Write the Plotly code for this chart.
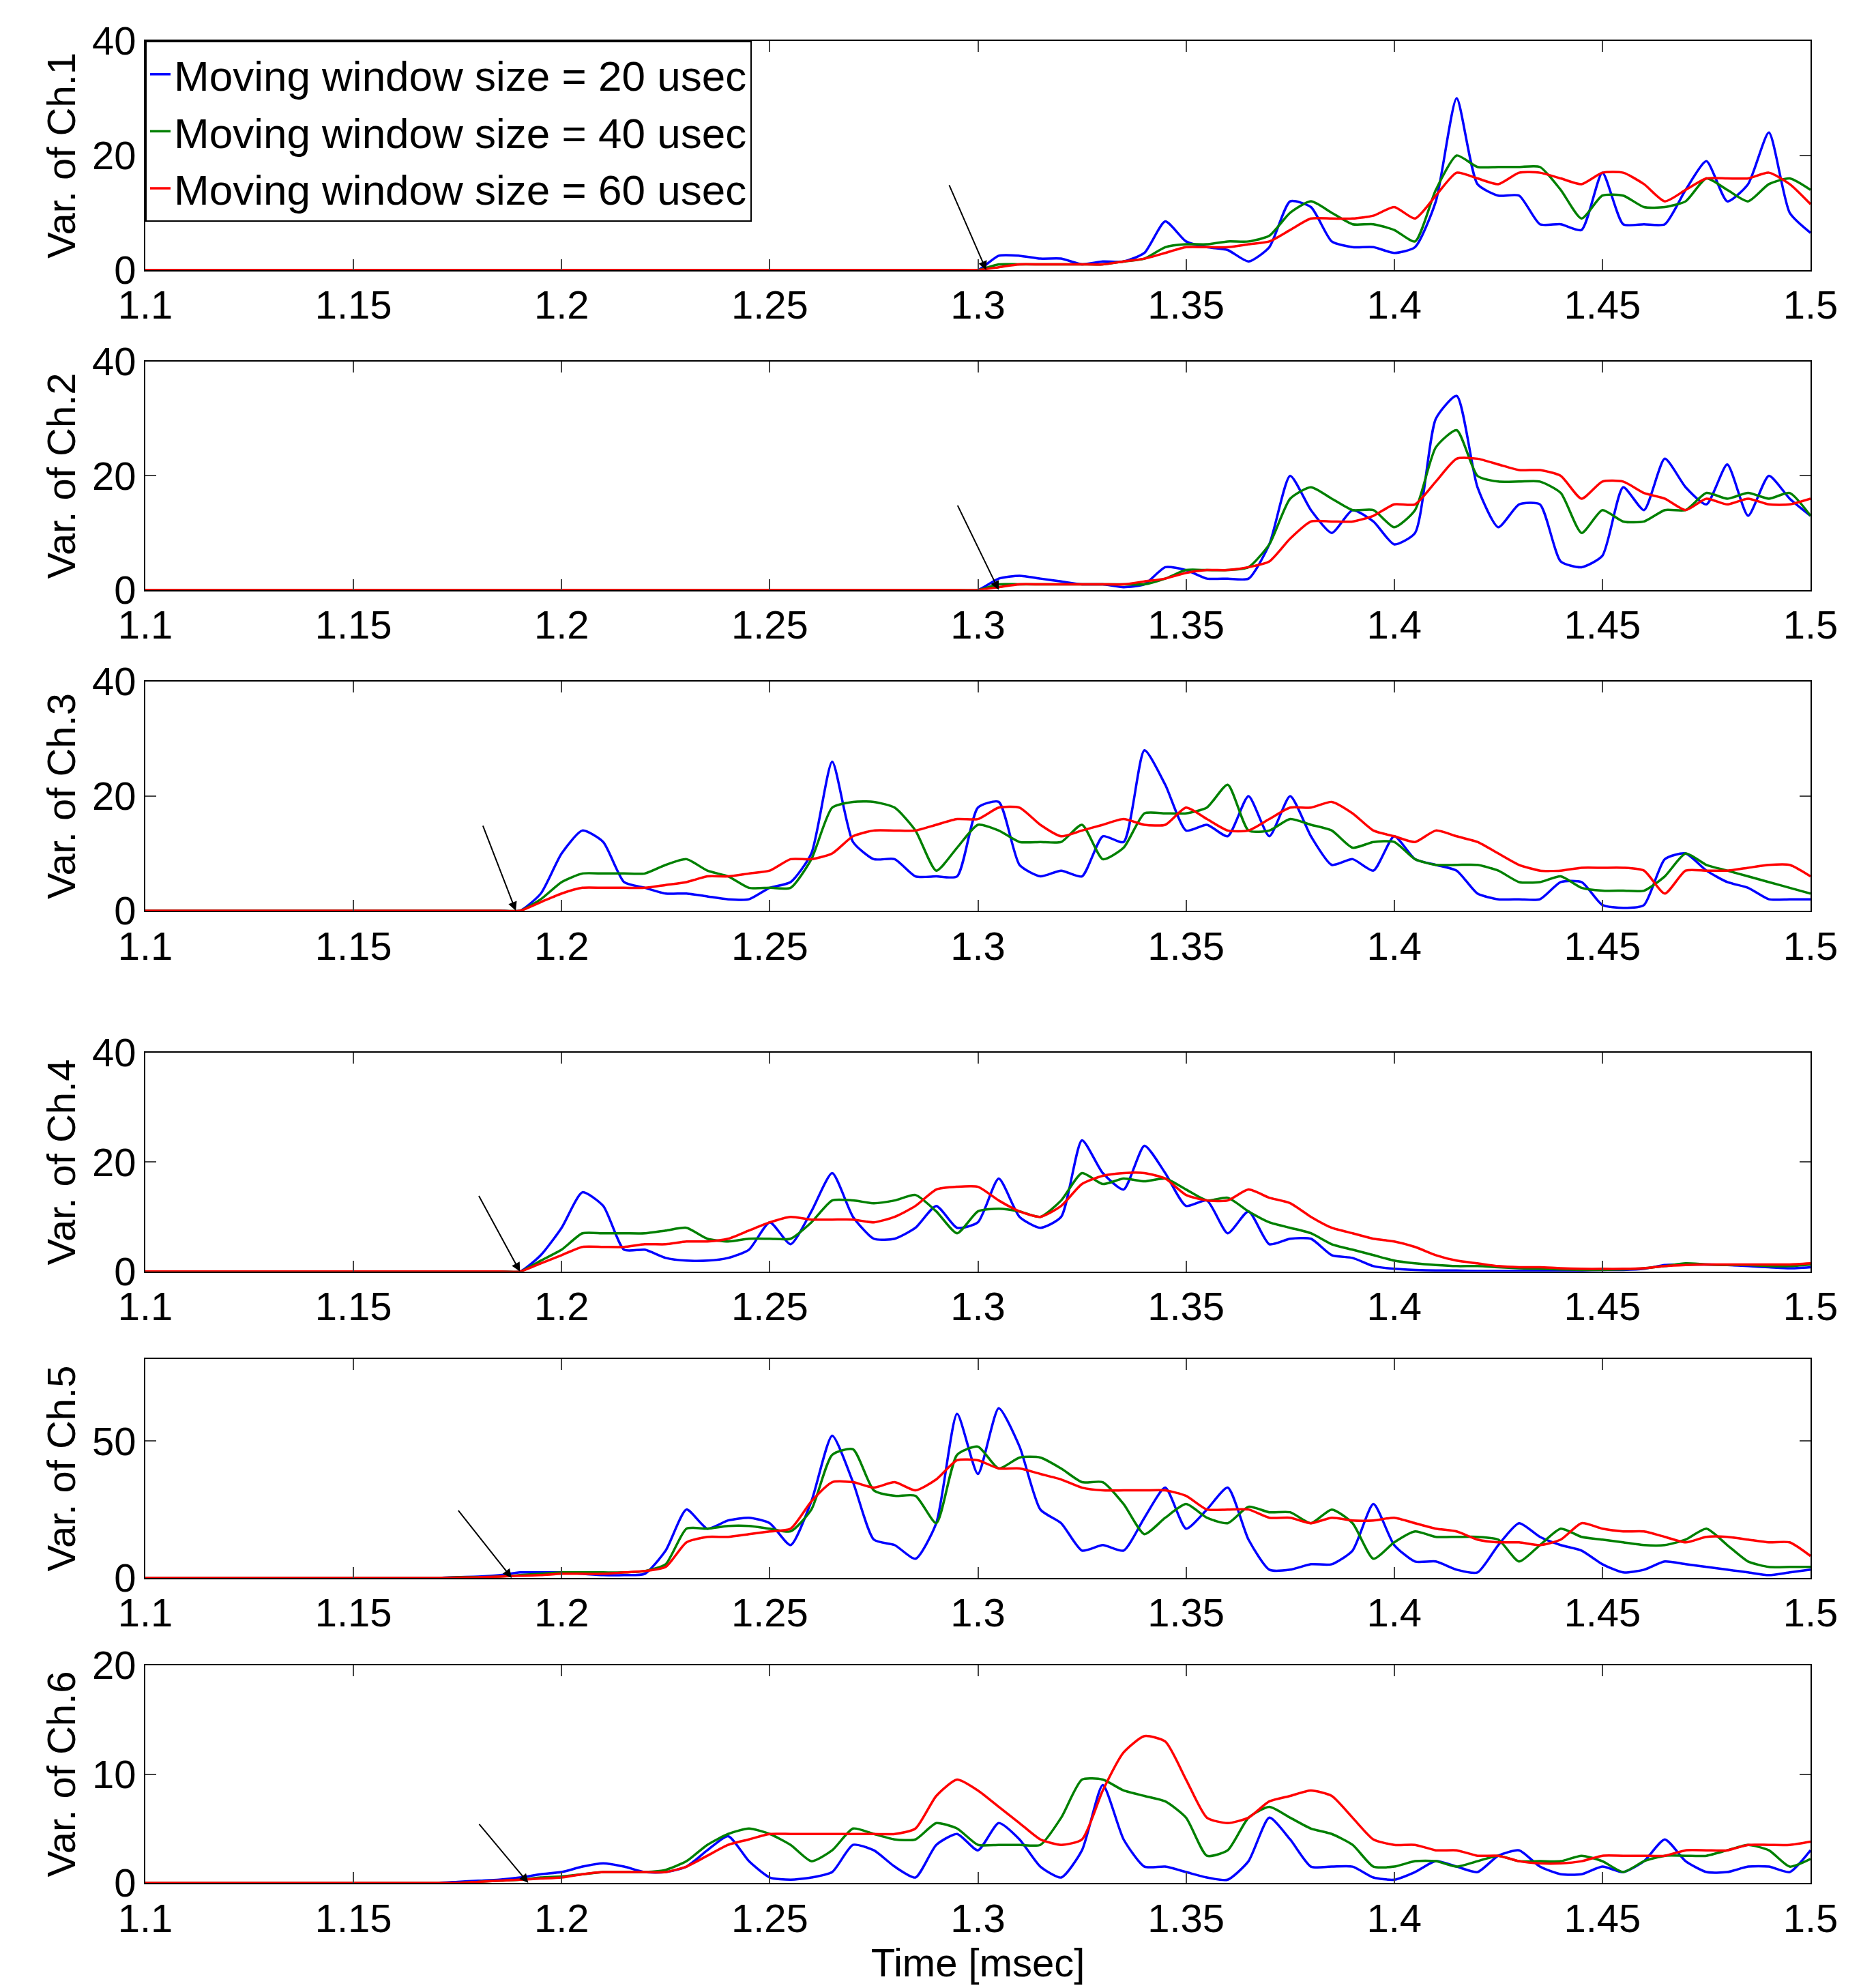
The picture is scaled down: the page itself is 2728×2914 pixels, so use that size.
import plotly.graph_objects as go
import numpy as np

t = [round(1.1 + 0.005*i, 3) for i in range(81)]
xticks = [1.1, 1.15, 1.2, 1.25, 1.3, 1.35, 1.4, 1.45, 1.5]
xticktext = ["1.1", "1.15", "1.2", "1.25", "1.3", "1.35", "1.4", "1.45", "1.5"]
names = ["Moving window size = 20 usec", "Moving window size = 40 usec", "Moving window size = 60 usec"]
colors = ["#0000ff", "#008000", "#ff0000"]
ylabels = ["Var. of Ch.1", "Var. of Ch.2", "Var. of Ch.3", "Var. of Ch.4", "Var. of Ch.5", "Var. of Ch.6"]

onset = [1.30, 1.30, 1.19, 1.19, 1.175, 1.175]

ch1_blue = [0,2.5,2.5,2,2,1,1.5,1.5,3,8.5,5,4,3.5,1.5,4,12,11,5,4,4,3,4,12,30,15,13,13,8,8,7,17,8,8,8,14,19,12,15,24,10,6.5]
ch1_green = [0,1,1,1,1,1,1,1.5,2,4,4.5,4.5,5,5,6,10,12,10,8,8,7,5,14,20,18,18,18,18,14,9,13,13,11,11,12,16,14,12,15,16,14]
ch1_red = [0,0.5,1,1,1,1,1,1.5,2,3,4,4,4,4.5,5,7,9,9,9,9.5,11,9,13,17,16,15,17,17,16,15,17,17,15,12,14,16,16,16,17,15,11.5]

ch2_blue = [0,2,2.5,2,1.5,1,1,0.5,1,4,3.5,2,2,2,8,20,14,10,14,12,8,10,30,34,18,11,15,15,5,4,6,18,14,23,18,15,22,13,20,16,13]
ch2_green = [0,1,1,1,1,1,1,1,1,2,3.5,3.5,3.5,4,8,16,18,16,14,14,11,14,25,28,20,19,19,19,17,10,14,12,12,14,14,17,16,17,16,17,13]
ch2_red = [0,0.5,1,1,1,1,1,1,1.5,2,3,3.5,3.5,4,5,9,12,12,12,13,15,15,19,23,23,22,21,21,20,16,19,19,17,16,14,16,15,16,15,15,16]

ch3_blue = [0,3,10,14,12,5,4,3,3,2.5,2,2,4,5,10,26,12,9,9,6,6,6,18,19,8,6,7,6,13,12,28,22,14,15,13,20,13,20,13,8,9,7,13,9,8,7,3,2,2,2,5,5,1,0.5,1,9,10,7,5,4,2,2,2]
ch3_green = [0,2,5,6.5,6.5,6.5,6.5,8,9,7,6,4,4,4,9,18,19,19,18,14,7,11,15,14,12,12,12,15,9,11,17,17,17,18,22,14,14,16,15,14,11,12,12,9,8,8,8,7,5,5,6,4,3.5,3.5,3.5,6,10,8,7,6,5,4,3]
ch3_red = [0,1.5,3,4,4,4,4,4.5,5,6,6,6.5,7,9,9,10,13,14,14,14,15,16,16,18,18,15,13,14,15,16,15,15,18,16,14,14,16,18,18,19,17,14,13,12,14,13,12,10,8,7,7,7.5,7.5,7.5,7,3,7,7,7,7.5,8,8,6]

ch4_blue = [0,3,8,14.5,12,4,4,2.5,2,2,2.5,4,9,5,11,18,10,6,6,8,12,8,9,17,10,8,10,24,18,15,23,18,12,13,7,11,5,6,6,3,2.5,1,0.5,0.3,
            0.2,0.2,0.1,0.1,0.1,0.1,0.1,0.2,0.3,0.3,0.5,1.2,1.3,1.3,1.2,1,0.8,0.6,0.8]
ch4_green = [0,2,4,7,7,7,7,7.5,8,6,5.5,6,6,6,9,13,13,12.5,13,14,11,7,11,11.5,11,10,13,18,16,17,16.5,17,15,13,13.5,11,9,8,7,5,4,3,2,1.5,
             1.2,1,1,0.8,0.6,0.5,0.4,0.3,0.3,0.4,0.6,1,1.5,1.3,1.2,1.2,1,1,1.3]
ch4_red = [0,1.5,3,4.5,4.5,4.5,5,5,5.5,5.5,6,7.5,9,10,9.5,9.5,9.5,9,10,12,15,15.5,15.5,13,11,10,12,16,17.5,18,18,17,14,13,13,15,13.5,12.5,10,8,7,6,5.5,4.5,
           3,2,1.5,1,0.8,0.8,0.6,0.5,0.5,0.5,0.6,1,1.2,1.3,1.3,1.3,1.3,1.3,1.5]

ch5_blue = [0.3,0.5,1,2,2,2,1.5,1,1,1.5,10,25,18,21,22,20,12,28,52,35,14,12,7,20,60,38,62,48,25,20,10,12,10,22,33,18,25,33,14,3,3,5,5,10,27,12,6,6,3,2,12,20,15,12,10,5,2,3,6,5,4,3,2,1,2,3]
ch5_green = [0.2,0.3,0.5,1,1.5,2,2,2,2,2.5,5,18,18,19,19,18,17,25,45,47,32,30,30,20,45,48,40,44,44,40,35,35,27,16,22,27,22,20,26,24,24,20,25,20,7,13,17,15,15,15,14,6,12,18,15,14,13,12,12,14,18,12,6,4,4,4,6,6]
ch5_red = [0.1,0.2,0.5,0.8,1,1.5,1.5,1.5,2,2.5,4,13,15,15,16,17,18,28,35,35,33,35,32,36,43,43,40,40,38,36,33,32,32,32,32,30,25,25,25,22,22,20,22,21,21,22,20,18,17,14,13,13,12,14,20,18,17,17,15,13,15,15,14,13,13,8,6]

ch6_blue = [0.1,0.2,0.3,0.5,0.8,1,1.5,1.8,1.5,1,1,1.5,3,4.3,2,0.5,0.3,0.5,1,3.5,3,1.5,0.5,3.5,4.5,3,5.5,4,1.5,0.5,3,9,4,1.5,1.5,1,0.5,0.3,2,6,4,1.5,1.5,1.5,0.5,0.3,1,2,1.5,1,2.5,3,1.5,0.8,0.8,1.5,1,2,4,2,1,1,1.5,1.5,1,3]
ch6_green = [0,0.1,0.2,0.3,0.5,0.6,0.8,1,1,1,1.2,2,3.5,4.5,5,4.5,3.5,2,3,5,4.5,4,4,5.5,5,3.5,3.5,3.5,3.5,6,9.5,9.5,8.5,8,7.5,6,2.5,3,6,7,6,5,4.5,3.5,1.5,1.5,2,2,1.5,2,2.5,2,2,2,2.5,2,1,2,2.5,2.5,2.5,3,3.5,3,1.5,2.2]
ch6_red = [0,0.1,0.2,0.3,0.4,0.5,0.8,1,1,1,1,1.5,2.5,3.5,4,4.5,4.5,4.5,4.5,4.5,4.5,4.5,5,8,9.5,8.5,7,5.5,4,3.5,4,8.5,12,13.5,13,9.5,6,5.5,6,7.5,8,8.5,8,6,4,3.5,3.5,3,3,2.5,2.5,2,1.8,1.8,2,2.5,2.5,2.5,2.5,3,3,3,3.5,3.5,3.5,3.8]

channels = [(ch1_blue, ch1_green, ch1_red), (ch2_blue, ch2_green, ch2_red), (ch3_blue, ch3_green, ch3_red),
            (ch4_blue, ch4_green, ch4_red), (ch5_blue, ch5_green, ch5_red), (ch6_blue, ch6_green, ch6_red)]
yranges = [[0, 40], [0, 40], [0, 40], [0, 40], [0, 80], [0, 20]]
yticks = [[0, 20, 40], [0, 20, 40], [0, 20, 40], [0, 20, 40], [0, 50], [0, 10, 20]]
arrows = [(1.293, 15, 1.302, 0), (1.295, 15, 1.305, 0), (1.181, 15, 1.189, 0),
          (1.18, 14, 1.19, 0), (1.175, 25, 1.188, 0), (1.18, 5.5, 1.192, 0)]

domains = [(0.8756, 1.0), (0.7019, 0.8259), (0.5278, 0.6522), (0.3319, 0.4507), (0.1656, 0.2844), (0.0, 0.1181)]

def full(series, start):
    i0 = int(round((start - 1.1) / 0.005))
    vals = [0.0] * i0 + list(series)
    vals = vals[:81]
    while len(vals) < 81:
        vals.append(vals[-1])
    return vals

fig = go.Figure()
layout = {}
font = "Liberation Sans, Arial, sans-serif"
for k in range(6):
    xa = "x" if k == 0 else f"x{k+1}"
    ya = "y" if k == 0 else f"y{k+1}"
    for s in range(3):
        fig.add_trace(go.Scatter(x=t, y=full(channels[k][s], onset[k]), mode="lines",
                                 line=dict(color=colors[s], width=3.5, shape="spline", smoothing=0.6),
                                 name=names[s], showlegend=(k == 0), xaxis=xa, yaxis=ya))
    axcommon = dict(showgrid=False, zeroline=False, showline=True, linecolor="black", linewidth=2,
                    mirror="ticks", ticks="inside", ticklen=16, tickwidth=2,
                    tickfont=dict(size=58, color="black", family=font))
    layout["xaxis" if k == 0 else f"xaxis{k+1}"] = dict(axcommon, range=[1.1, 1.5], tickvals=xticks,
                                                         ticktext=xticktext, anchor=ya)
    layout["yaxis" if k == 0 else f"yaxis{k+1}"] = dict(axcommon, range=yranges[k], tickvals=yticks[k],
                                                         domain=list(domains[k]), anchor=xa,
                                                         title=dict(text=ylabels[k], standoff=6,
                                                                    font=dict(size=58, color="black", family=font)))
    ax0, ay0, hx, hy = arrows[k]
    fig.add_annotation(x=hx, y=hy, ax=ax0, ay=ay0, xref=xa, yref=ya, axref=xa, ayref=ya,
                       showarrow=True, arrowhead=2, arrowsize=1.3, arrowwidth=2, arrowcolor="black", text="")

layout["xaxis6"]["title"] = dict(text="Time [msec]", standoff=0, font=dict(size=58, color="black", family=font))
fig.update_layout(**layout)
fig.update_layout(width=2728, height=2914, margin=dict(l=205, r=82, t=52, b=162),
                  plot_bgcolor="white", paper_bgcolor="white",
                  legend=dict(x=0, y=1, xanchor="left", yanchor="top", bgcolor="white",
                              bordercolor="black", borderwidth=2,
                              font=dict(size=62, color="black", family=font), tracegroupgap=0))
fig.write_html("out.html")
